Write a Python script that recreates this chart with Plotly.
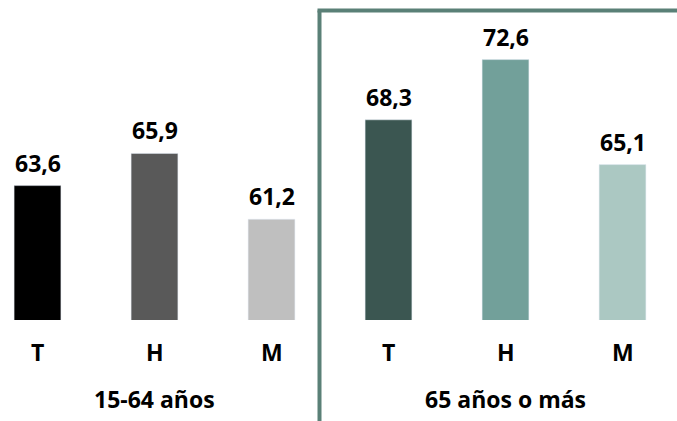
import plotly.graph_objects as go

groups = ["15-64 años", "65 años o más"]
sexes = ["T", "H", "M"]
values_15_64 = [63.6, 65.9, 61.2]
values_65 = [68.3, 72.6, 65.1]
colors_15_64 = ["#000000", "#595959", "#BFBFBF"]
colors_65 = ["#3B5651", "#72A09A", "#ABC8C2"]

values = values_15_64 + values_65
colors = colors_15_64 + colors_65
labels = sexes + sexes
xpos = list(range(len(values)))

W, H = 677, 421
MB = 101
plot_h = H - MB
px_per_unit = 14.0
y0 = 54.0
y1 = y0 + plot_h / px_per_unit
FONT = "Open Sans"
FS = 23

fig = go.Figure(go.Bar(x=xpos, y=values, marker_color=colors, width=0.4,
                       hoverinfo="skip"))

ann = []
for x, v in zip(xpos, values):
    ann.append(dict(x=x, y=v, text="<b>" + f"{v:.1f}".replace(".", ",") + "</b>",
                    showarrow=False, yanchor="bottom", yshift=5,
                    font=dict(family=FONT, size=FS, color="#000000")))
for x, l in zip(xpos, labels):
    ann.append(dict(x=x, xref="x", y=(plot_h - 352) / plot_h, yref="paper",
                    text="<b>" + l + "</b>", showarrow=False, yanchor="middle",
                    font=dict(family=FONT, size=FS, color="#000000")))
for gi, g in enumerate(groups):
    cx = sum(xpos[gi * 3:(gi + 1) * 3]) / 3
    ann.append(dict(x=cx, xref="x", y=(plot_h - 399) / plot_h, yref="paper",
                    text="<b>" + g + "</b>", showarrow=False, yanchor="middle",
                    font=dict(family=FONT, size=FS, color="#000000")))

line_col = "#5A8077"
xline = 319.5 / W
ytop = (plot_h - 10.5) / plot_h
shapes = [
    dict(type="line", xref="paper", yref="paper", x0=xline, x1=xline,
         y0=(plot_h - H) / plot_h, y1=ytop, line=dict(color=line_col, width=4)),
    dict(type="line", xref="paper", yref="paper", x0=xline - 2 / W, x1=1.0,
         y0=ytop, y1=ytop, line=dict(color=line_col, width=4)),
]

xa = -37.5 / 117
xb = xa + W / 117
fig.update_layout(
    width=W, height=H,
    margin=dict(l=0, r=0, t=0, b=MB),
    paper_bgcolor="white", plot_bgcolor="white",
    xaxis=dict(range=[xa, xb], showticklabels=False, showgrid=False,
               zeroline=False, showline=False, ticks=""),
    yaxis=dict(range=[y0, y1], showticklabels=False, showgrid=False,
               zeroline=False, showline=False, ticks=""),
    annotations=ann, shapes=shapes, showlegend=False,
)
fig.write_html("out.html", config={"displayModeBar": False},
               post_script="document.body.style.margin='0px';")
